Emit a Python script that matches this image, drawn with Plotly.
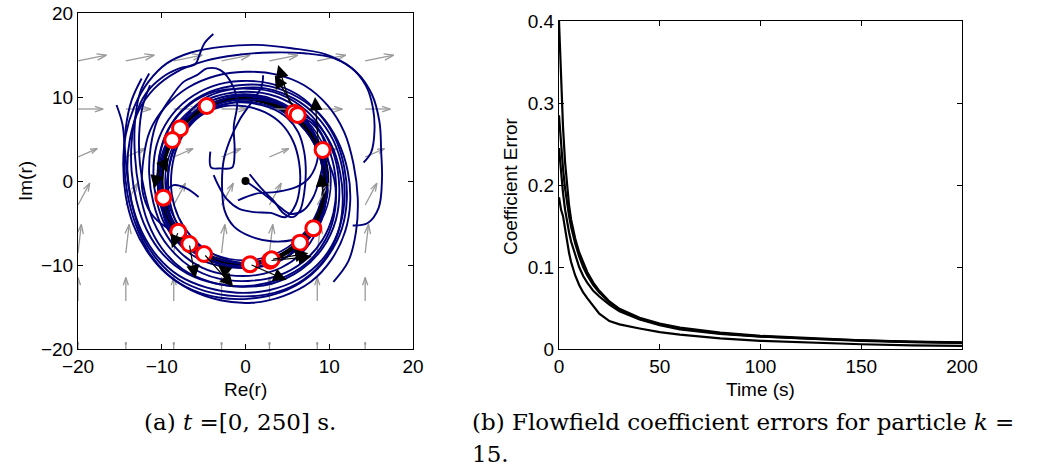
import plotly.graph_objects as go

# ---------------- data: left panel ----------------
# quiver grid (flow field), values per row
grid_x = [-20, -14.29, -8.57, -2.86, 2.86, 8.57, 14.29]
grid_y = [-20, -14.29, -8.57, -2.86, 2.86, 8.57, 14.29]
row_u = [0.0, 0.0, 0.4, 1.4, 2.3, 3.0, 3.4]
row_v = [0.8, 2.8, 3.4, 2.6, 1.0, 0.0, 0.7]

# particle trajectories
traj_o1 = [(14.1,2.2),(15.0,3.4),(15.4,6.0),(15.2,8.8),(14.4,11.3),(12.6,13.5),(9.5,15.1),(5.5,15.8),(1.3,16.2),(-2.6,16.0),(-6.5,15.3),(-9.4,14.0),(-11.6,11.8),(-13.3,8.8),(-14.3,5.5),(-14.6,2.0),(-14.3,-1.8),(-13.4,-5.2),(-11.8,-8.3),(-9.5,-11.0),(-6.5,-13.0),(-3.0,-14.2),(0.8,-14.5),(4.5,-13.7),(7.8,-12.0),(10.3,-9.3),(11.9,-6.0),(12.5,-2.5),(12.2,1.2),(11.0,4.8),(9.0,7.8),(6.2,10.0),(2.8,11.3),(-0.8,11.4),(-4.3,10.6),(-7.2,8.8),(-9.2,6.2),(-10.3,3.0),(-10.4,0.0),(-9.81,-1.98)]
traj_o2 = [(12.8,-5.3),(14.6,-5.0),(15.9,-3.2),(16.3,0.3),(16.2,3.5),(16.0,7.0),(15.1,10.3),(13.3,12.9),(10.6,14.6),(7.0,15.2),(3.0,15.3),(-1.0,15.0),(-4.8,14.3),(-8.2,13.0),(-10.9,11.0),(-12.8,8.3),(-13.8,5.0),(-14.1,1.3),(-13.6,-2.5),(-12.4,-6.0),(-10.5,-9.0),(-7.9,-11.3),(-4.6,-12.7),(-1.0,-13.3),(2.8,-13.0),(6.3,-11.7),(9.2,-9.3),(11.0,-6.2),(11.8,-2.5),(11.6,1.3),(10.5,4.8),(8.5,7.7),(5.8,9.8),(2.5,11.0),(-1.0,11.0),(-4.4,10.1),(-6.5,8.4),(-7.82,6.27)]
traj_o3 = [(-15.4,9.05),(-14.7,6.8),(-14.4,3.8),(-14.1,0.5),(-13.5,-3.0),(-12.4,-6.4),(-10.6,-9.3),(-8.0,-11.7),(-4.8,-13.1),(-1.2,-13.7),(2.6,-13.5),(6.2,-12.2),(9.0,-9.9),(10.9,-6.6),(11.6,-2.8),(11.3,1.0),(10.2,4.4),(8.3,7.0),(5.79,8.13)]
traj_o4 = [(-3.84,17.5),(-4.9,16.4),(-5.5,15.0),(-6.0,13.9),(-7.9,13.4),(-10.0,12.3),(-11.9,10.4),(-13.1,7.8),(-13.6,4.6),(-13.6,1.2),(-13.0,-2.4),(-11.8,-5.8),(-9.8,-8.8),(-7.0,-11.0),(-3.6,-12.2),(0.2,-12.5),(4.0,-11.7),(7.3,-9.8),(9.6,-6.9),(10.7,-3.4),(10.6,0.2),(9.21,3.69)]
traj_o5 = [(2.1,12.6),(1.9,11.2),(0.6,9.2),(-0.7,7.3),(-1.85,4.9),(-2.6,2.5),(-2.8,-0.7),(-2.5,-3.5),(-1.4,-5.4),(0.6,-6.6),(3.3,-7.2),(5.8,-7.0),(7.4,-6.4),(8.1,-5.63)]
traj_o6 = [(-11.5,12.8),(-12.6,10.5),(-13.2,7.0),(-13.2,3.0),(-12.7,-1.0),(-11.7,-4.8),(-10.0,-8.0),(-7.5,-10.5),(-4.2,-12.0),(-0.5,-12.6),(3.2,-12.2),(6.6,-10.6),(9.2,-8.0),(10.8,-4.6),(11.2,-0.8),(10.6,3.0),(9.0,6.4),(6.5,9.0),(3.3,10.6),(-0.3,11.0),(-3.8,10.6),(-6.8,9.0),(-9.0,6.5),(-10.2,3.3),(-10.5,-0.1),(-10.0,-3.4),(-8.6,-6.2),(-6.5,-8.3),(-3.6,-9.7),(-0.4,-10.3),(2.8,-10.0),(5.0,-9.0),(6.51,-7.34)]
traj_o7 = [(-11.4,11.4),(-12.3,8.8),(-12.7,5.5),(-12.6,2.0),(-12.0,-1.5),(-11.0,-4.8),(-9.2,-7.8),(-6.6,-10.2),(-3.3,-11.6),(0.3,-11.9),(3.8,-11.3),(6.9,-9.6),(9.2,-7.0),(10.5,-3.8),(10.8,-0.2),(10.1,3.4),(8.5,6.5),(6.0,8.9),(2.9,10.3),(-0.5,10.6),(-3.8,10.0),(-6.6,8.4),(-8.7,6.0),(-9.8,3.0),(-10.1,-0.3),(-9.5,-3.5),(-8.1,-6.0),(-6.71,-7.5)]
traj_o8 = [(10.5,-12.0),(12.3,-9.5),(13.2,-6.0),(13.4,-2.0),(12.9,2.0),(11.8,5.8),(9.8,9.0),(7.0,11.4),(3.6,12.7),(0.0,13.0),(-3.6,12.5),(-6.9,11.1),(-9.5,8.9),(-11.4,6.0),(-12.2,2.5),(-12.3,-1.2),(-11.3,-3.8),(-9.6,-5.4),(-8.02,-6.03)]
traj_o9 = [(-12.4,12.2),(-13.6,9.6),(-14.3,6.3),(-14.5,2.5),(-14.1,-1.5),(-13.1,-5.2),(-11.5,-8.5),(-9.2,-11.2),(-6.3,-13.0),(-3.0,-13.9),(0.6,-14.0),(4.1,-13.3),(7.3,-11.6),(9.8,-9.0),(11.5,-5.7),(12.1,-2.1),(11.8,1.6),(10.7,5.1),(8.8,8.0),(6.2,10.3),(3.0,11.6),(-0.5,11.9),(-3.9,11.3),(-6.9,9.7),(-9.2,7.3),(-10.6,4.3),(-11.0,1.0),(-10.6,-2.4),(-9.5,-5.4),(-7.5,-7.7),(-4.96,-8.69)]
traj_i1 = [(0.0,0.0),(2.1,-1.5),(4.1,-3.1),(5.3,-3.9),(6.9,-3.5),(8.1,-1.9),(8.9,0.5),(9.4,3.0),(9.3,5.0),(8.0,6.8),(6.23,7.86)]
traj_i2 = [(-0.9,-2.3),(1.3,-1.5),(3.7,-1.3),(6.1,-0.7),(7.7,0.5),(8.6,2.6),(8.5,5.0),(7.3,7.0),(5.3,8.6),(2.8,9.5),(0.0,9.7),(-2.8,9.3),(-5.3,8.1),(-7.3,6.2),(-8.6,3.8),(-9.2,1.0),(-9.1,-2.0),(-8.3,-4.8),(-6.8,-7.0),(-4.7,-8.7),(-2.1,-9.6),(0.7,-9.9),(2.93,-9.48)]
traj_i3 = [(-4.2,3.5),(-4.1,1.6),(-3.0,1.5),(-1.6,1.6),(-1.3,3.5),(-1.4,6.5),(-1.0,9.2),(-1.5,11.3),(-3.0,13.2),(-4.6,13.4),(-5.8,12.6),(-7.4,11.8),(-9.0,9.8),(-10.5,7.3),(-11.3,4.2),(-11.5,0.8),(-11.0,-2.6),(-9.8,-5.8),(-7.8,-8.5),(-5.2,-10.3),(-2.0,-11.2),(1.3,-11.2),(4.3,-10.3),(6.8,-8.5),(8.5,-6.0),(9.5,-3.0),(9.7,0.2),(9.2,3.2),(8.0,5.8),(6.2,7.8),(3.9,9.2),(1.2,10.0),(-1.6,10.0),(-4.64,8.93)]
traj_i4 = [(-5.6,-1.9),(-7.0,-0.9),(-8.6,-0.5),(-9.6,-1.5),(-9.9,-3.5),(-9.0,-6.0),(-7.2,-8.2),(-4.6,-9.7),(-1.5,-10.3),(1.6,-10.2),(4.6,-9.2),(7.2,-7.2),(8.9,-4.6),(9.7,-1.5),(9.6,1.7),(8.6,4.7),(6.8,7.3),(4.4,9.1),(1.5,10.1),(-1.5,10.2),(-4.4,9.4),(-6.9,7.5),(-8.74,4.88)]
traj_i5 = [(0.5,0.8),(2.0,-1.0),(3.4,-2.4),(4.5,-3.8),(5.6,-4.3),(6.5,-3.5),(7.0,-1.5),(7.2,1.0),(7.0,3.5),(6.3,5.8),(5.0,7.5),(3.0,8.7),(0.5,9.3),(-2.2,9.2),(-4.6,8.3),(-6.7,6.5),(-8.1,4.2),(-8.8,1.4),(-8.8,-1.6),(-8.0,-4.3),(-6.5,-6.6),(-4.4,-8.4),(-1.8,-9.5),(1.0,-9.8),(3.12,-9.33)]
traj_i6 = [(-3.8,0.7),(-3.2,-0.6),(-2.2,-2.2),(-0.8,-3.3),(1.0,-3.7),(3.0,-3.8),(4.8,-4.3),(6.0,-2.8),(6.5,-0.5),(6.4,2.2),(5.7,4.7),(4.3,6.8),(2.3,8.2),(-0.1,8.9),(-2.6,8.9),(-5.0,8.0),(-7.0,6.3),(-8.4,4.0),(-9.2,1.3),(-9.4,-1.5),(-8.9,-4.3),(-7.6,-6.7),(-5.7,-8.5),(-3.3,-9.7),(-0.7,-10.1),(0.54,-9.92)]

# converged limit cycle (dense black ring)
ring_cx = [-0.15, -0.45, -0.15, -0.15]
ring_cy = [0.0, -0.1, 0.0, 0.0]
ring_r = [9.9, 9.85, 9.45, 10.35]

# final particle positions
part_x = [-4.64, -7.82, -8.74, -9.81, -8.02, -6.71, -4.96, 0.54, 2.93, 3.12, 6.51, 8.10, 9.21, 5.79, 6.23]
part_y = [8.93, 6.27, 4.88, -1.98, -6.03, -7.50, -8.69, -9.92, -9.48, -9.33, -7.34, -5.63, 3.69, 8.13, 7.86]

# velocity arrows (tail -> head)
vel_tail_x = [5.3, 5.7, 8.7, 9.3, -10.0, -10.4, -8.02, -6.71, -4.96, -2.0, 0.54, 2.93, 3.12]
vel_tail_y = [9.25, 8.85, 4.3, -2.0, 2.6, 1.5, -6.03, -7.50, -8.69, -11.0, -9.92, -9.48, -9.33]
vel_head_x = [3.9, 3.5, 8.3, 9.0, -9.3, -10.9, -8.8, -6.0, -1.46, -3.3, 4.9, 7.9, 7.5]
vel_head_y = [13.8, 12.6, 10.0, 0.9, 1.0, -0.9, -8.0, -11.6, -12.6, -10.0, -11.8, -9.0, -8.6]

# ---------------- data: right panel ----------------
err_t = [0, 1, 2, 3, 4, 5, 6, 8, 10, 12, 14, 17, 20, 25, 30, 40, 50, 60, 80, 100, 125, 150, 175, 200]
err_1 = [.400, .330, .270, .228, .197, .175, .158, .135, .118, .105, .094, .081, .071, .058, .049, .038, .031, .026, .020, .0160, .0128, .0105, .0090, .0080]
err_2 = [.285, .250, .220, .196, .178, .162, .149, .129, .113, .100, .090, .078, .069, .057, .048, .037, .030, .025, .019, .0155, .0125, .0102, .0087, .0077]
err_3 = [.245, .215, .190, .170, .155, .142, .131, .114, .100, .089, .081, .071, .064, .054, .046, .036, .029, .024, .0185, .0150, .0120, .0098, .0083, .0073]
err_4 = [.185, .170, .162, .145, .130, .117, .106, .090, .078, .069, .062, .052, .043, .034, .030, .025, .0205, .0175, .0130, .0100, .0075, .0058, .0045, .0037]

left_ticks = [-20, -10, 0, 10, 20]

# ---------------- figure ----------------
fig = go.Figure()

# quiver
qx, qy = [], []
a, b = 0.33, 0.33
for j, y0 in enumerate(grid_y):
    u, v = row_u[j], row_v[j]
    for x0 in grid_x:
        tx, ty = x0 + u, y0 + v
        qx += [x0, tx, None, tx - a * (u + b * v), tx, tx - a * (u - b * v), None]
        qy += [y0, ty, None, ty - a * (v - b * u), ty, ty - a * (v + b * u), None]
fig.add_trace(go.Scatter(x=qx, y=qy, mode="lines", line=dict(color="#9a9a9a", width=1.3),
                         hoverinfo="skip", showlegend=False, xaxis="x", yaxis="y"))

trajs = [traj_o1, traj_o2, traj_o3, traj_o4, traj_o5, traj_o6, traj_o7, traj_o8, traj_o9,
         traj_i1, traj_i2, traj_i3, traj_i4, traj_i5, traj_i6]
for tr in trajs:
    fig.add_trace(go.Scatter(x=[p[0] for p in tr], y=[p[1] for p in tr], mode="lines",
                             line=dict(color="#00007a", width=1.9, shape="spline", smoothing=1.0),
                             hoverinfo="skip", showlegend=False, xaxis="x", yaxis="y"))

# start dot
fig.add_trace(go.Scatter(x=[traj_i1[0][0]], y=[traj_i1[0][1]], mode="markers",
                         marker=dict(color="black", size=8), showlegend=False, xaxis="x", yaxis="y"))

# particles
fig.add_trace(go.Scatter(x=part_x, y=part_y, mode="markers",
                         marker=dict(symbol="circle", size=15, color="white", line=dict(color="#ff0000", width=3)),
                         showlegend=False, xaxis="x", yaxis="y"))

# error curves
for e in [err_1, err_2, err_3, err_4]:
    fig.add_trace(go.Scatter(x=err_t, y=e, mode="lines", line=dict(color="black", width=2.2),
                             showlegend=False, xaxis="x2", yaxis="y2"))

shapes = []
ring_w = [4.5, 3, 1.6, 1.6]
ring_c = ["black", "black", "#00007a", "#00007a"]
for cx, cy, r, w, c in zip(ring_cx, ring_cy, ring_r, ring_w, ring_c):
    shapes.append(dict(type="circle", xref="x", yref="y", x0=cx - r, x1=cx + r, y0=cy - r, y1=cy + r,
                       line=dict(color=c, width=w), layer="below"))

ann = []
for tx, ty, hx, hy in zip(vel_tail_x, vel_tail_y, vel_head_x, vel_head_y):
    ann.append(dict(x=hx, y=hy, ax=tx, ay=ty, xref="x", yref="y", axref="x", ayref="y",
                    showarrow=True, arrowhead=2, arrowsize=2.2, arrowwidth=1.2, arrowcolor="black",
                    standoff=0, text=""))

sans = "Liberation Sans, Arial, sans-serif"
serif = "DejaVu Serif, serif"
W, H = 1037, 474
def px(x): return x / W
def py(y): return 1 - y / H

def label(text, x, y, size=19, family=sans, xanchor="center", angle=0):
    return dict(text=text, x=px(x), y=py(y), xref="paper", yref="paper", showarrow=False,
                xanchor=xanchor, yanchor="middle", textangle=angle,
                font=dict(family=family, size=size, color="black"))

ann += [
    label("Re(r)", 245, 389, size=19),
    label("Im(r)", 25, 181, size=19, angle=-90),
    label("Time (s)", 760, 389, size=19),
    label("Coefficient Error", 510, 186, size=19, angle=-90),
    label("(a) <i>t</i> =[0, 250] s.", 240, 422, size=23, family=serif),
    label("(b) Flowfield coefficient errors for particle <i>k</i> =", 470, 422, size=23, family=serif, xanchor="left"),
    label("15.", 470, 454, size=23, family=serif, xanchor="left"),
]

axis_common = dict(showline=True, linecolor="black", linewidth=1, mirror="ticks", ticks="inside",
                   ticklen=5, tickcolor="black", showgrid=False, zeroline=False, automargin=False,
                   tickfont=dict(family=sans, size=19, color="black"))

fig.update_layout(
    template="none",
    width=W, height=H, margin=dict(l=0, r=0, t=0, b=0, pad=0), autosize=False,
    paper_bgcolor="white", plot_bgcolor="white",
    xaxis=dict(domain=[px(78), px(413)], range=[-20, 20], tickvals=left_ticks, anchor="y", ticklabelstandoff=0, **axis_common),
    yaxis=dict(domain=[py(349), py(13)], range=[-20, 20], tickvals=left_ticks, anchor="x", **axis_common),
    xaxis2=dict(domain=[px(559), px(962)], range=[0, 200], dtick=50, anchor="y2", ticklabelstandoff=0, **axis_common),
    yaxis2=dict(domain=[py(349), py(21)], range=[0, 0.4], dtick=0.1, anchor="x2", **axis_common),
    shapes=shapes, annotations=ann,
)

fig.write_html("out.html")
